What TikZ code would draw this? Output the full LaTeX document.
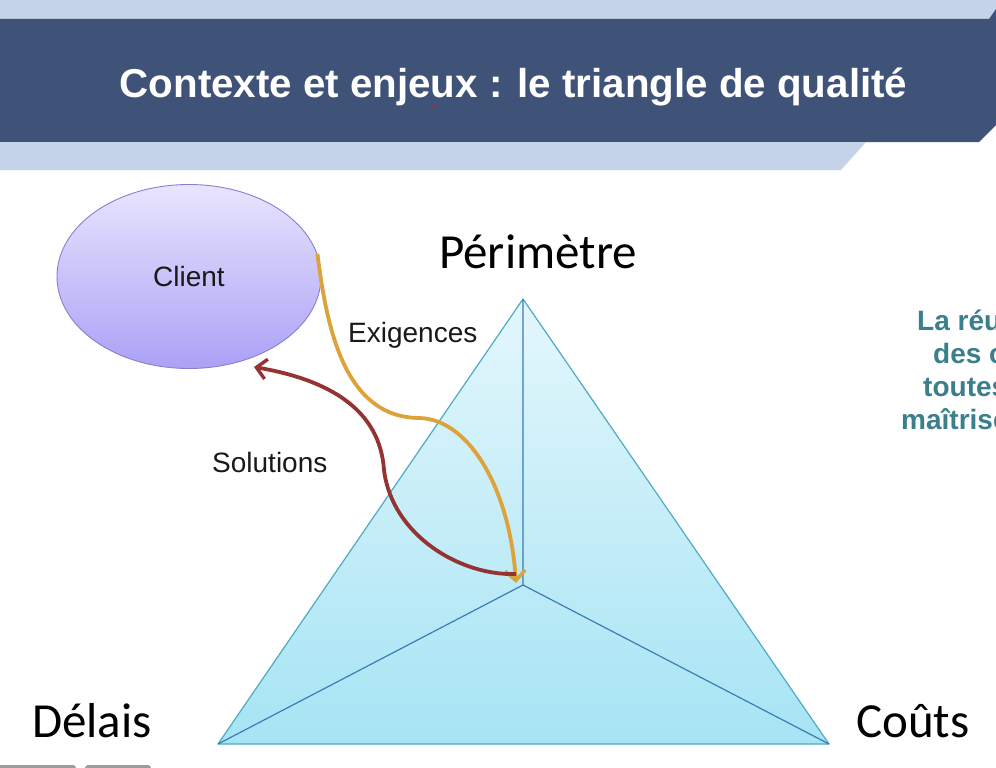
\documentclass[tikz,border=0pt]{standalone}
\usepackage{fontspec}
\setmainfont{Liberation Sans}
\newfontfamily\carl{Carlito}
\usetikzlibrary{shapes.geometric,arrows.meta}
\definecolor{hdrdark}{HTML}{3F5277}
\definecolor{hdrlight}{HTML}{C5D3E8}
\definecolor{tritop}{HTML}{E4F7FC}
\definecolor{tribot}{HTML}{A6E4F4}
\definecolor{triedge}{HTML}{4FAAC4}
\definecolor{triinner}{HTML}{3A7CB8}
\definecolor{elltop}{HTML}{E8E5FE}
\definecolor{ellbot}{HTML}{ABA1F6}
\definecolor{elledge}{HTML}{8A7ED0}
\definecolor{solred}{HTML}{943331}
\definecolor{exgold}{HTML}{DDA23A}
\definecolor{sidetext}{HTML}{3A7F8B}
\definecolor{tabgray}{HTML}{9C9C9C}
\begin{document}
\begin{tikzpicture}[x=1pt,y=-1pt,
  bodytext/.style={font=\fontsize{28}{33}\selectfont, text=black!90, inner sep=0pt},
  bigword/.style={font=\carl\fontsize{49}{58}\selectfont, text=black, inner sep=0pt, anchor=base west},
  sideline/.style={font=\bfseries\fontsize{28}{33}\selectfont, text=sidetext, inner sep=0pt, anchor=base west},
  edgeline/.style={draw=triedge, line width=1.2pt, line join=round},
  innerline/.style={draw=triinner, line width=1.2pt},
  flowarrow/.style={line width=3.8pt, -{Straight Barb[length=10pt,width=20pt,line width=3.4pt]}},
]
\useasboundingbox (0,0) rectangle (996,768);
\clip (0,0) rectangle (996,768);
\fill[white] (0,0) rectangle (996,768);

% header bands
\fill[hdrlight] (0,0) rectangle (996,19);
\fill[hdrdark] (0,19) -- (996,19) -- (996,125) -- (979,142) -- (0,142) -- cycle;
\fill[hdrdark] (989,19) -- (996,9) -- (996,19) -- cycle;
\fill[hdrlight] (0,142) -- (866,142) -- (841,170) -- (0,170) -- cycle;
\node[font=\bfseries\fontsize{40.3}{48}\selectfont, text=white, anchor=base, inner sep=0pt] (title) at (513.5,97) {Contexte et enjeux : le triangle de qualité};
\fill[red] (435,106) circle (1.4);

% triangle
\coordinate (P) at (523,299);
\coordinate (D) at (218,744);
\coordinate (C) at (829,744);
\coordinate (O) at (523,585);
\shade[top color=tritop, bottom color=tribot] (P) -- (C) -- (D) -- cycle;
\draw[edgeline] (P) -- (C) -- (D) -- cycle;
\draw[innerline] (P) -- (O) (D) -- (O) -- (C);

% corner labels
\node[bigword] (perim) at (439,268) {Périmètre};
\node[bigword] (delais) at (32,737) {Délais};
\node[bigword] (couts) at (856,737) {Coûts};

% client
\node[ellipse, minimum width=264pt, minimum height=184pt, draw=elledge, line width=0.9pt,
      top color=elltop, bottom color=ellbot, bodytext] (client) at (189,276.5) {Client};

% labels
\node[bodytext, anchor=base west] (exig) at (348,342) {Exigences};
\node[bodytext, anchor=base west] (solu) at (212,472) {Solutions};

% arrows
\coordinate (exEnd) at (516,583);
\coordinate (exMid) at (420,418);
\coordinate (soStart) at (516,574);
\coordinate (soMid) at (384,470);
\coordinate (soEnd) at (254,367);
\draw[flowarrow, draw=exgold] (client.10) .. controls (327,330) and (345,418) .. (exMid)
      .. controls (470,420) and (510,490) .. (exEnd);
\draw[flowarrow, draw=solred] (soStart) .. controls (460,576) and (392,535) .. (soMid)
      .. controls (380,410) and (330,380) .. (soEnd);

% side text (cut at the right edge, as in the reference)
\node[sideline] (s1) at (917,330) {La réu};
\node[sideline] (s2) at (933,363) {des c};
\node[sideline] (s3) at (923,396) {toutes};
\node[sideline] (s4) at (901,429) {maîtrise};

% bottom tabs
\fill[tabgray, rounded corners=3pt] (-6,765) rectangle (76,778);
\fill[tabgray, rounded corners=3pt] (85,765) rectangle (151,778);
\end{tikzpicture}
\end{document}
